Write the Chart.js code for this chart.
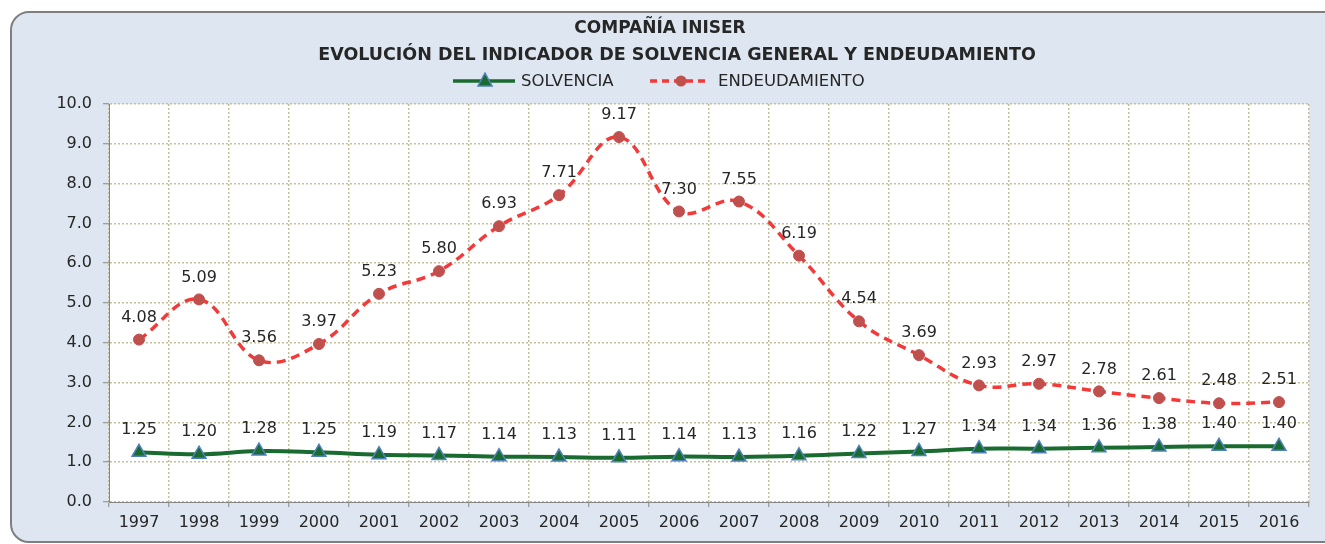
<!DOCTYPE html>
<html>
<head>
<meta charset="utf-8">
<script src="https://cdn.jsdelivr.net/npm/chart.js@4.4.0/dist/chart.umd.min.js"></script>
<style>
  html, body { margin: 0; padding: 0; background: #ffffff; overflow: hidden; }
  #wrap { width: 1325px; height: 544px; position: relative; }
  canvas { display: block; }
</style>
</head>
<body>
<div id="wrap"><canvas id="grafico" width="1325" height="544"></canvas></div>
<script>
// datos
var years = ['1997','1998','1999','2000','2001','2002','2003','2004','2005','2006',
             '2007','2008','2009','2010','2011','2012','2013','2014','2015','2016'];
var solvencia = [1.25,1.20,1.28,1.25,1.19,1.17,1.14,1.13,1.11,1.14,
                 1.13,1.16,1.22,1.27,1.34,1.34,1.36,1.38,1.40,1.40];
var endeudamiento = [4.08,5.09,3.56,3.97,5.23,5.80,6.93,7.71,9.17,7.30,
                     7.55,6.19,4.54,3.69,2.93,2.97,2.78,2.61,2.48,2.51];
var titleLines = ['COMPAÑÍA INISER', 'EVOLUCIÓN DEL INDICADOR DE SOLVENCIA GENERAL Y ENDEUDAMIENTO'];

var GREEN = '#1a6b30', TRI_BORDER = '#4f81bd';
var RED = '#f23a3a', DOT = '#c0504d';
var TXT = '#262626';
var GRID = '#c6bf9b';

// fondo del panel, titulo y leyenda dibujados a mano
var panelPlugin = {
  id: 'panel',
  beforeDraw: function(chart) {
    var ctx = chart.ctx, a = chart.chartArea;
    ctx.save();
    ctx.fillStyle = '#ffffff';
    ctx.fillRect(0, 0, chart.width, chart.height);
    ctx.beginPath();
    ctx.moveTo(chart.width + 10, 12);
    ctx.lineTo(29, 12);
    ctx.arcTo(11, 12, 11, 30, 18);
    ctx.lineTo(11, 524);
    ctx.arcTo(11, 542, 29, 542, 18);
    ctx.lineTo(chart.width + 10, 542);
    ctx.fillStyle = '#dee7f1';
    ctx.fill();
    ctx.lineWidth = 2;
    ctx.strokeStyle = '#7f7f7f';
    ctx.stroke();
    ctx.fillStyle = '#ffffff';
    ctx.fillRect(a.left, a.top, a.right - a.left, a.bottom - a.top);
    ctx.restore();
  },
  afterDraw: function(chart) {
    var ctx = chart.ctx;
    ctx.save();
    ctx.fillStyle = TXT;
    ctx.textAlign = 'center';
    ctx.textBaseline = 'middle';
    ctx.font = 'bold 17px "DejaVu Sans"';
    ctx.fillText(titleLines[0], 660, 29);
    ctx.font = 'bold 17.5px "DejaVu Sans"';
    ctx.fillText(titleLines[1], 677, 55);

    // leyenda
    var y = 81;
    ctx.lineWidth = 3.5;
    ctx.strokeStyle = GREEN;
    ctx.beginPath(); ctx.moveTo(453, y); ctx.lineTo(515, y); ctx.stroke();
    ctx.beginPath();
    ctx.moveTo(485, y - 8); ctx.lineTo(492, y + 5); ctx.lineTo(478, y + 5); ctx.closePath();
    ctx.fillStyle = GREEN; ctx.fill();
    ctx.lineWidth = 1.5; ctx.strokeStyle = TRI_BORDER; ctx.stroke();

    ctx.lineWidth = 3.5;
    ctx.strokeStyle = RED;
    ctx.setLineDash([7, 5]);
    ctx.beginPath(); ctx.moveTo(650, y); ctx.lineTo(710, y); ctx.stroke();
    ctx.setLineDash([]);
    ctx.beginPath(); ctx.arc(681, y, 5.5, 0, Math.PI * 2);
    ctx.fillStyle = DOT; ctx.fill();

    ctx.fillStyle = TXT;
    ctx.textAlign = 'left';
    ctx.font = '16.5px "DejaVu Sans"';
    ctx.fillText(chart.data.datasets[0].label, 521, y + 1);
    ctx.fillText(chart.data.datasets[1].label, 718, y + 1);
    ctx.restore();
  }
};

// etiquetas de valor encima de cada punto
var valuePlugin = {
  id: 'valores',
  afterDatasetsDraw: function(chart) {
    var ctx = chart.ctx;
    ctx.save();
    ctx.font = '16px "DejaVu Sans"';
    ctx.fillStyle = TXT;
    ctx.textAlign = 'center';
    ctx.textBaseline = 'middle';
    chart.data.datasets.forEach(function(ds, di) {
      var meta = chart.getDatasetMeta(di);
      meta.data.forEach(function(pt, i) {
        ctx.fillText(ds.data[i].toFixed(2), pt.x, pt.y - 22);
      });
    });
    ctx.restore();
  }
};

var ctx = document.getElementById('grafico').getContext('2d');
var chart = new Chart(ctx, {
  type: 'line',
  data: {
    labels: years,
    datasets: [{
      label: 'SOLVENCIA',
      data: solvencia,
      borderColor: GREEN,
      borderWidth: 4,
      tension: 0.4,
      pointStyle: 'triangle',
      pointRadius: 8,
      pointBackgroundColor: GREEN,
      pointBorderColor: TRI_BORDER,
      pointBorderWidth: 1.5
    }, {
      label: 'ENDEUDAMIENTO',
      data: endeudamiento,
      borderColor: RED,
      borderWidth: 3.5,
      borderDash: [9, 6],
      tension: 0.4,
      pointStyle: 'circle',
      pointRadius: 5.5,
      pointBackgroundColor: DOT,
      pointBorderColor: DOT,
      pointBorderWidth: 1
    }]
  },
  options: {
    responsive: false,
    animation: false,
    devicePixelRatio: 1,
    layout: { padding: { top: 104, right: 16, bottom: 12, left: 0 } },
    plugins: {
      legend: { display: false },
      title: { display: false },
      tooltip: { enabled: false }
    },
    scales: {
      x: {
        offset: true,
        grid: {
          offset: true,
          color: GRID,
          lineWidth: 1.5,
          tickLength: 5,
          tickColor: '#868686',
          tickWidth: 1,
          tickBorderDash: []
        },
        border: { color: '#868686', width: 1, dash: [2, 2] },
        ticks: { color: TXT, font: { family: 'DejaVu Sans', size: 16 }, padding: 6, maxRotation: 0, autoSkip: false },
        afterFit: function(s) { s.height = 30; }
      },
      y: {
        min: 0,
        max: 10,
        grid: {
          color: GRID,
          lineWidth: 1.5,
          tickLength: 6,
          tickColor: '#868686',
          tickWidth: 1,
          tickBorderDash: []
        },
        border: { color: '#868686', width: 1, dash: [2, 2] },
        ticks: {
          stepSize: 1,
          color: TXT,
          font: { family: 'DejaVu Sans', size: 16 },
          padding: 11,
          callback: function(v) { return v.toFixed(1); }
        },
        afterFit: function(s) { s.width = 109; }
      }
    }
  },
  plugins: [panelPlugin, valuePlugin]
});
</script>
</body>
</html>
